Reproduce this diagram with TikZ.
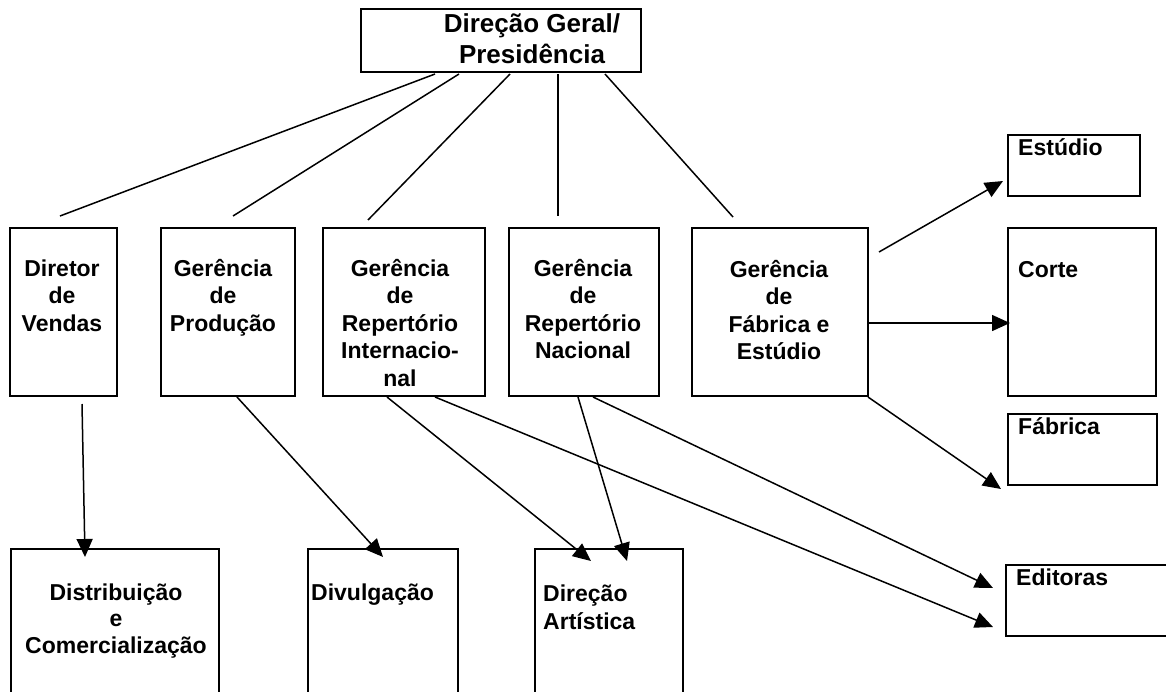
\documentclass[tikz,border=0pt]{standalone}
\usepackage{fontspec}
\setmainfont{Liberation Sans}
\usetikzlibrary{arrows.meta,calc}
\begin{document}
\begin{tikzpicture}[x=1pt,y=-1pt,
  box/.style={draw, line width=2pt, inner sep=0pt, anchor=north west},
  lbl/.style={inner sep=0pt, anchor=base, font=\fontsize{23}{27.5}\selectfont\bfseries},
  lbll/.style={lbl, anchor=base west},
  conn/.style={line width=1.5pt},
  arr/.style={line width=1.5pt, -{Triangle[length=18pt,width=16pt]}}]
\useasboundingbox (0,0) rectangle (1166,691);
\clip (0,0) rectangle (1166,691);

% boxes
\node[box, minimum width=280pt, minimum height=63pt] (dg) at (360,8) {};
\node[box, minimum width=107pt, minimum height=168pt] (dv) at (9,227) {};
\node[box, minimum width=134pt, minimum height=168pt] (gp) at (160,227) {};
\node[box, minimum width=162pt, minimum height=168pt] (gri) at (322,227) {};
\node[box, minimum width=150pt, minimum height=168pt] (grn) at (508,227) {};
\node[box, minimum width=176pt, minimum height=168pt] (gfe) at (691,227) {};
\node[box, minimum width=132pt, minimum height=61pt] (est) at (1007,134) {};
\node[box, minimum width=148pt, minimum height=168pt] (cor) at (1007,227) {};
\node[box, minimum width=149pt, minimum height=71pt] (fab) at (1007,413) {};
\node[box, minimum width=180pt, minimum height=71pt] (ed) at (1005,564) {};
\node[box, minimum width=208pt, minimum height=170pt] (dc) at (10,548) {};
\node[box, minimum width=150pt, minimum height=170pt] (dvg) at (307,548) {};
\node[box, minimum width=148pt, minimum height=170pt] (da) at (534,548) {};

% texts
\node[lbl, font=\fontsize{26}{31}\selectfont\bfseries] (tdg) at (532,32)
  {\begin{tabular}[t]{@{}c@{}}Direção Geral/\\Presidência\end{tabular}};
\node[lbl] (tdv) at (62,276) {\begin{tabular}[t]{@{}c@{}}Diretor\\de\\Vendas\end{tabular}};
\node[lbl] (tgp) at (223,276) {\begin{tabular}[t]{@{}c@{}}Gerência\\de\\Produção\end{tabular}};
\node[lbl] (tgri) at (400,276) {\begin{tabular}[t]{@{}c@{}}Gerência\\de\\Repertório\\Internacio-\\nal\end{tabular}};
\node[lbl] (tgrn) at (583,276) {\begin{tabular}[t]{@{}c@{}}Gerência\\de\\Repertório\\Nacional\end{tabular}};
\node[lbl] (tgfe) at (779,277) {\begin{tabular}[t]{@{}c@{}}Gerência\\de\\Fábrica e\\Estúdio\end{tabular}};
\node[lbll] (test) at (1018,155) {Estúdio};
\node[lbll] (tcor) at (1018,277) {Corte};
\node[lbll] (tfab) at (1018,434) {Fábrica};
\node[lbll] (ted) at (1016,585) {Editoras};
\node[lbl, font=\fontsize{23}{26.5}\selectfont\bfseries] (tdc) at (116,600)
  {\begin{tabular}[t]{@{}c@{}}Distribuição\\e\\Comercialização\end{tabular}};
\node[lbll] (tdvg) at (311,600) {Divulgação};
\node[lbll, font=\fontsize{23}{28}\selectfont\bfseries] (tda) at (543,601)
  {\begin{tabular}[t]{@{}l@{}}Direção\\Artística\end{tabular}};

% connectors from the top
\draw[conn] ($(dg.south west)+(75,1)$) -- ($(dv.north west)+(51,-11)$);
\draw[conn] ($(dg.south west)+(99,1)$) -- ($(gp.north west)+(73,-11)$);
\draw[conn] ($(dg.south west)+(150,1)$) -- ($(gri.north west)+(46,-7)$);
\draw[conn] ($(dg.south west)+(198,1)$) -- ($(grn.north west)+(50,-11)$);
\draw[conn] ($(dg.south west)+(245,1)$) -- ($(gfe.north west)+(42,-10)$);

% arrows
\draw[arr] ($(dv.south west)+(73,7)$) -- ($(dc.north west)+(75,9)$);
\draw[arr] ($(gp.south west)+(77,0)$) -- ($(dvg.north west)+(76,9)$);
\draw[arr] ($(gri.south west)+(65,0)$) -- ($(da.north west)+(57,13)$);
\draw[arr] ($(gri.south west)+(113,0)$) -- ($(ed.north west)+(-12,63)$);
\draw[arr] ($(grn.south west)+(70,0)$) -- ($(da.north west)+(93,13)$);
\draw[arr] ($(grn.south west)+(85,0)$) -- ($(ed.north west)+(-12,24)$);
\draw[arr] ($(gfe.north east)+(10,25)$) -- ($(est.north west)+(-4,47)$);
\draw[arr] ($(gfe.north east)+(0,96)$) -- ($(cor.north west)+(3,96)$);
\draw[arr] ($(gfe.south east)+(-1,0)$) -- ($(fab.north west)+(-6,76)$);
\end{tikzpicture}
\end{document}
